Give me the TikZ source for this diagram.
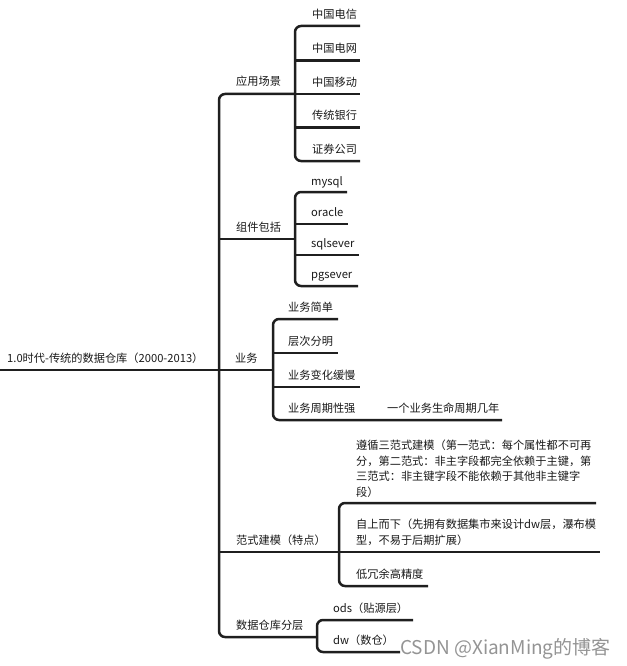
\documentclass[tikz,border=0pt]{standalone}
\usepackage{fontspec}
\setmainfont{Noto Sans CJK SC}
\begin{document}
\begin{tikzpicture}[x=1pt,y=-1pt,
  br/.style={line width=2.5pt, draw=black!88, rounded corners=6pt},
  ln/.style={line width=2.5pt, draw=black!88},
  lbl/.style={anchor=base west, inner sep=0pt, font=\fontsize{11.2}{15.5}\selectfont, text=black!90},
  wm/.style={anchor=base west, inner sep=0pt, font=\fontsize{19}{21}\selectfont, text=black!42}]
\useasboundingbox (0,0) rectangle (626,666);

% ---------- root ----------
\coordinate (r0) at (0,370);
\coordinate (sp) at (219,370);
\node[lbl] (root) at (7,362) {1.0时代-传统的数据仓库（2000-2013）};
\draw[ln] (r0) -- (sp);

% ---------- main spine ----------
\coordinate (a1) at (295,94);
\coordinate (a5) at (317,637);
\draw[br] (a1) -- (219,94) -- (219,637) -- (a5);

% ---------- 应用场景 ----------
\node[lbl] (yy) at (236,86) {应用场景};
\coordinate (y1s) at (295,26);  \coordinate (y1e) at (360,26);
\coordinate (y2s) at (295,60.5);\coordinate (y2e) at (360,60.5);
\coordinate (y3s) at (295,94);  \coordinate (y3e) at (360,94);
\coordinate (y4s) at (295,127.5);\coordinate (y4e) at (360,127.5);
\coordinate (y5s) at (295,161); \coordinate (y5e) at (360,161);
\draw[br] (y1e) -- (y1s) -- (y5s) -- (y5e);
\draw[ln] (y2s) -- (y2e);
\draw[ln] (y3s) -- (y3e);
\draw[ln] (y4s) -- (y4e);
\node[lbl] (y1) at (312,18.5) {中国电信};
\node[lbl] (y2) at (312,53) {中国电网};
\node[lbl] (y3) at (312,86.5) {中国移动};
\node[lbl] (y4) at (312,120) {传统银行};
\node[lbl] (y5) at (312,153.5) {证券公司};

% ---------- 组件包括 ----------
\coordinate (a2) at (219,239);
\coordinate (a2e) at (295,239);
\draw[ln] (a2) -- (a2e);
\node[lbl] (zj) at (236,231) {组件包括};
\coordinate (z1s) at (295,192);   \coordinate (z1e) at (347,192);
\coordinate (z2s) at (295,224);   \coordinate (z2e) at (348,224);
\coordinate (z3s) at (295,255);   \coordinate (z3e) at (359,255);
\coordinate (z4s) at (295,286);   \coordinate (z4e) at (358,286);
\draw[br] (z1e) -- (z1s) -- (z4s) -- (z4e);
\draw[ln] (z2s) -- (z2e);
\draw[ln] (z3s) -- (z3e);
\node[lbl] (z1) at (311,185) {mysql};
\node[lbl] (z2) at (311,216) {oracle};
\node[lbl] (z3) at (311,247) {sqlsever};
\node[lbl] (z4) at (311,278) {pgsever};

% ---------- 业务 ----------
\coordinate (a3e) at (273,370);
\draw[ln] (sp) -- (a3e);
\node[lbl] (yw) at (235,362) {业务};
\coordinate (w1s) at (273,319);   \coordinate (w1e) at (338,319);
\coordinate (w2s) at (273,353);   \coordinate (w2e) at (338,353);
\coordinate (w3s) at (273,387);   \coordinate (w3e) at (360,387);
\coordinate (w4s) at (273,420);   \coordinate (w4e) at (502,420);
\draw[br] (w1e) -- (w1s) -- (w4s) -- (w4e);
\draw[ln] (w2s) -- (w2e);
\draw[ln] (w3s) -- (w3e);
\node[lbl] (w1) at (288,311) {业务简单};
\node[lbl] (w2) at (288,345) {层次分明};
\node[lbl] (w3) at (288,379) {业务变化缓慢};
\node[lbl] (w4) at (288,412) {业务周期性强};
\node[lbl] (w5) at (387,412) {一个业务生命周期几年};

% ---------- 范式建模（特点） ----------
\coordinate (a4) at (219,552);
\coordinate (a4e) at (339,552);
\draw[ln] (a4) -- (a4e);
\node[lbl] (fs) at (236,544) {范式建模（特点）};
\coordinate (f1s) at (339,503);   \coordinate (f1e) at (596,503);
\coordinate (f2s) at (339,552);   \coordinate (f2e) at (600,552);
\coordinate (f3s) at (339,586);   \coordinate (f3e) at (428,586);
\draw[br] (f1e) -- (f1s) -- (f3s) -- (f3e);
\draw[ln] (f2s) -- (f2e);
\node[lbl, anchor=north west, align=left] (f1) at (356,440)
  {遵循三范式建模（第一范式：每个属性都不可再\\分，第二范式：非主字段都完全依赖于主键，第\\三范式：非主键字段不能依赖于其他非主键字\\段）};
\node[lbl, anchor=north west, align=left] (f2) at (356,519)
  {自上而下（先拥有数据集市来设计dw层，瀑布模\\型，不易于后期扩展）};
\node[lbl] (f3) at (356,578) {低冗余高精度};

% ---------- 数据仓库分层 ----------
\node[lbl] (fc) at (236,629) {数据仓库分层};
\coordinate (c1s) at (317,620);   \coordinate (c1e) at (413,620);
\coordinate (c2s) at (317,652);   \coordinate (c2e) at (400,652);
\draw[br] (c1e) -- (c1s) -- (c2s) -- (c2e);
\node[lbl] (c1) at (333,612) {ods（贴源层）};
\node[lbl] (c2) at (333,644) {dw（数仓）};

% ---------- watermark ----------
\node[wm] (wmk) at (400,654) {CSDN @XianMing的博客};
\end{tikzpicture}
\end{document}
